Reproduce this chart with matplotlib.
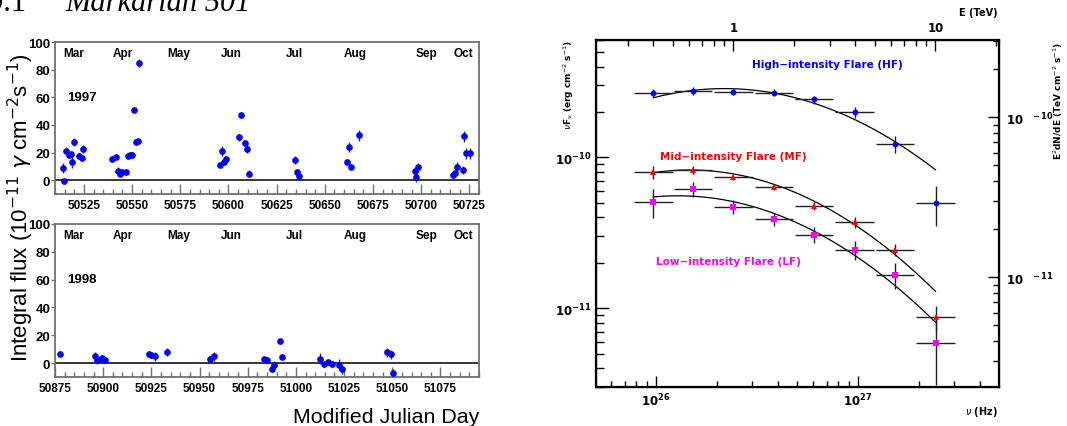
import numpy as np
import matplotlib
matplotlib.use("Agg")
import matplotlib.pyplot as plt
from matplotlib.ticker import FixedLocator, MultipleLocator, NullFormatter, LogLocator

# --- light curves, integral flux in 1e-11 ph cm^-2 s^-1 ---
mjd_1997 = [50514.0, 50514.8, 50515.7, 50517.1, 50518.1, 50518.8, 50519.9, 50522.6, 50523.8, 50524.7,
            50539.6, 50541.8, 50542.9, 50543.9, 50544.9, 50546.8, 50548.0, 50548.9, 50550.0, 50550.8,
            50551.9, 50552.9, 50553.7,
            50595.8, 50596.7, 50597.7, 50598.7, 50605.6, 50606.7, 50608.8, 50609.6, 50610.8,
            50634.7, 50635.6, 50636.6,
            50661.5, 50662.7, 50663.6, 50667.8,
            50696.7, 50697.5, 50698.5,
            50716.4, 50717.4, 50718.5, 50721.6, 50722.4, 50723.4, 50725.5]
flux_1997 = [9.0, -0.7, 21.0, 18.3, 18.6, 12.8, 27.7, 17.6, 15.9, 22.4,
             15.2, 17.1, 6.8, 4.8, 6.0, 6.0, 17.8, 18.1, 18.3, 51.1,
             27.5, 28.0, 84.8,
             10.9, 21.0, 13.5, 15.2, 31.1, 47.3, 27.2, 22.7, 4.8,
             14.7, 5.8, 2.9,
             13.5, 23.8, 9.9, 32.5,
             6.5, 2.0, 9.2,
             3.6, 5.1, 9.9, 7.5, 31.8, 19.5, 19.5]
err_1997 = [3.6, 2.0, 3.0, 2.0, 2.0, 4.0, 3.0, 2.0, 2.0, 3.0,
            2.0, 2.0, 3.0, 2.0, 2.0, 2.0, 2.0, 2.0, 2.0, 2.0,
            2.0, 2.0, 3.0,
            2.0, 3.5, 2.0, 2.0, 2.5, 2.0, 2.0, 3.0, 2.5,
            3.0, 2.0, 2.0,
            2.0, 3.5, 2.0, 4.0,
            3.0, 3.0, 3.0,
            2.0, 2.0, 3.0, 3.0, 4.0, 4.0, 4.0]

mjd_1998 = [50877.8, 50895.9, 50896.8, 50898.7, 50899.5, 50900.8, 50923.8, 50924.8, 50926.9, 50933.0,
            50955.6, 50957.7, 50983.6, 50984.8, 50987.8, 50988.8, 50991.8, 50992.6,
            51012.7, 51014.6, 51016.7, 51018.6, 51022.5, 51023.8, 51047.4, 51049.4, 51050.6]
flux_1998 = [6.5, 5.1, 2.4, 3.1, 3.6, 2.4, 6.7, 6.0, 4.8, 8.2,
             2.9, 4.8, 2.7, 2.3, -4.6, -1.7, 15.6, 4.6,
             3.1, -1.0, 0.9, -1.0, -1.2, -4.6, 7.7, 6.2, -7.0]
err_1998 = [2.0, 3.0, 3.0, 2.0, 2.0, 2.0, 2.0, 2.0, 3.0, 3.0,
            2.0, 3.0, 2.0, 2.0, 2.0, 3.0, 2.0, 2.0,
            4.0, 2.0, 2.0, 2.0, 4.0, 3.0, 3.5, 3.0, 3.0]

months = ["Mar", "Apr", "May", "Jun", "Jul", "Aug", "Sep", "Oct"]
month_pos = [0.045, 0.160, 0.291, 0.416, 0.565, 0.707, 0.876, 0.964]

# --- spectra: nuF_nu in erg cm^-2 s^-1 ---
nu = [9.7e25, 1.53e26, 2.42e26, 3.83e26, 6.07e26, 9.63e26, 1.53e27, 2.42e27]
nu_lo = [7.79e25, 1.23e26, 1.94e26, 3.08e26, 4.88e26, 7.73e26, 1.23e27, 1.94e27]
nu_hi = [1.21e26, 1.90e26, 3.01e26, 4.77e26, 7.56e26, 1.20e27, 1.90e27, 3.01e27]

hf_flux = [2.66e-10, 2.76e-10, 2.72e-10, 2.69e-10, 2.42e-10, 1.99e-10, 1.23e-10, 5.0e-11]
hf_err = [1.6e-11, 1.5e-11, 1.2e-11, 1.4e-11, 1.5e-11, 1.6e-11, 1.6e-11, 1.5e-11]
mf_flux = [8.0e-11, 8.2e-11, 7.36e-11, 6.39e-11, 4.78e-11, 3.70e-11, 2.44e-11, 8.7e-12]
mf_err = [8e-12, 5e-12, 3e-12, 3e-12, 3e-12, 3e-12, 2.2e-12, 1.6e-12]
lf_flux = [5.08e-11, 6.16e-11, 4.71e-11, 3.88e-11, 3.07e-11, 2.44e-11, 1.66e-11, 5.9e-12]
lf_err = [1.1e-11, 7e-12, 5e-12, 4e-12, 3.7e-12, 3.5e-12, 3.2e-12, 2.8e-12]

# log-parabola fits: log10 peak flux, log10 peak energy (TeV), curvature
hf_fit = (-9.544, -0.045, 0.493)
mf_fit = (-10.084, -0.218, 0.542)
lf_fit = (-10.255, -0.275, 0.5155)

NU_PER_TEV = 2.418e26

SANS = "Liberation Sans"

fig = plt.figure(figsize=(10.67, 4.27), dpi=100)
W, H = 1067.0, 427.0


def box(l, t, r, b):
    return [l / W, 1 - b / H, (r - l) / W, (b - t) / H]


def light_curve(ax, mjd, flux, err, x0, year):
    ax.errorbar(mjd, flux, yerr=err, fmt="o", color="#0000ff", ms=4.8, mew=0,
                ecolor="#303030", elinewidth=1.0, capsize=0, zorder=3)
    ax.axhline(0, color="black", lw=1.1, zorder=2)
    ax.set_xlim(x0, x0 + 220)
    ax.set_ylim(-10, 100)
    ax.xaxis.set_major_locator(MultipleLocator(25))
    ax.xaxis.set_minor_locator(MultipleLocator(5))
    ax.yaxis.set_major_locator(MultipleLocator(20))
    ax.tick_params(axis="x", which="major", direction="in", length=7, width=1.0,
                   color="#707070", pad=3.5, labelsize=8.5)
    ax.tick_params(axis="x", which="minor", direction="in", length=3.5, width=1.0, color="#707070")
    ax.tick_params(axis="y", direction="out", length=3, width=1.0, color="#707070",
                   pad=0.5, labelsize=9.5)
    for lab in ax.get_xticklabels() + ax.get_yticklabels():
        lab.set_family(SANS)
        lab.set_fontweight("bold")
    for s in ax.spines.values():
        s.set_color("#707070")
        s.set_linewidth(1.3)
    for name, pos in zip(months, month_pos):
        ax.text(pos, 0.925, name, transform=ax.transAxes, ha="center", va="center",
                fontsize=8.5, fontweight="bold", family=SANS)
    ax.text(0.028, 0.64, year, transform=ax.transAxes, ha="left", va="center",
            fontsize=9.5, fontweight="bold", family=SANS)


ax1 = fig.add_axes(box(55, 43, 479, 195))
light_curve(ax1, mjd_1997, flux_1997, err_1997, 50510, "1997")
ax2 = fig.add_axes(box(55, 225, 479, 378))
light_curve(ax2, mjd_1998, flux_1998, err_1998, 50875, "1998")

fig.text(28 / W, 1 - 362 / H, r"Integral flux (10$^{-11}$ $\gamma$ cm$^{-2}$s$^{-1}$)",
         rotation=90, rotation_mode="anchor", ha="left", va="baseline",
         fontsize=16, family=SANS)
fig.text(479 / W, 4 / H, "Modified Julian Day", ha="right", va="baseline",
         fontsize=15.4, family=SANS)
fig.text(-12 / W, 1 - 11 / H, "9.1", ha="left", va="baseline", fontsize=22,
         family="Liberation Serif")
fig.text(65 / W, 1 - 11 / H, "Markarian 501", ha="left", va="baseline", fontsize=22,
         family="Liberation Serif", style="italic")

# --- spectral energy distribution ---
ax = fig.add_axes(box(596, 41, 999, 388))
ax.set_xscale("log")
ax.set_yscale("log")
ax.set_xlim(5.05e25, 4.99e27)
ax.set_ylim(3.0e-12, 6.0e-10)

nu_a = np.array(nu)
xerr = [nu_a - np.array(nu_lo), np.array(nu_hi) - nu_a]
series = [(hf_flux, hf_err, "o", "#0000ff", 4.2),
          (mf_flux, mf_err, "^", "#ff0000", 4.0),
          (lf_flux, lf_err, "s", "#ff00ff", 4.6)]
for flux, err, mk, col, ms in series:
    ax.errorbar(nu, flux, xerr=xerr, yerr=err, fmt=mk, color=col, ms=ms, mew=0,
                ecolor="#202020", elinewidth=1.0, capsize=0, zorder=3)

u = np.linspace(np.log10(nu[0] / NU_PER_TEV), np.log10(nu[-1] / NU_PER_TEV), 200)
for p, u0, k in (hf_fit, mf_fit, lf_fit):
    ax.plot(NU_PER_TEV * 10 ** u, 10 ** (p - k * (u - u0) ** 2), color="black", lw=0.9, zorder=2)

for s in ax.spines.values():
    s.set_linewidth(1.6)
ax.tick_params(which="major", direction="in", length=8, width=1.0, labelsize=8.5)
ax.tick_params(which="minor", direction="in", length=4.5, width=1.0)
ax.tick_params(axis="y", which="major", length=9)
ax.tick_params(axis="y", which="minor", length=5.5)
ax.xaxis.set_major_locator(FixedLocator([1e26, 1e27]))
ax.yaxis.set_major_locator(FixedLocator([1e-11, 1e-10]))
ax.xaxis.set_minor_locator(LogLocator(10, subs=np.arange(2, 10)))
ax.yaxis.set_minor_locator(LogLocator(10, subs=np.arange(2, 10)))
ax.xaxis.set_minor_formatter(NullFormatter())
ax.yaxis.set_minor_formatter(NullFormatter())
ax.set_xticklabels([r"$\mathbf{10^{26}}$", r"$\mathbf{10^{27}}$"])
ax.set_yticklabels([r"$\mathbf{10^{-11}}$", r"$\mathbf{10^{-10}}$"])

axt = ax.twiny()
axt.set_xscale("log")
axt.set_xlim(5.05e25 / NU_PER_TEV, 4.99e27 / NU_PER_TEV)
axt.xaxis.set_major_locator(FixedLocator([1, 10]))
axt.xaxis.set_minor_locator(LogLocator(10, subs=np.arange(2, 10)))
axt.xaxis.set_minor_formatter(NullFormatter())
axt.set_xticklabels(["1", "10"], fontweight="bold", fontsize=8.5)
axt.tick_params(which="major", direction="in", length=8, width=1.0, pad=4)
axt.tick_params(which="minor", direction="in", length=4.5, width=1.0)

axr = ax.twinx()
axr.set_yscale("log")
axr.set_ylim(10 ** -11.686, 10 ** -9.517)
axr.yaxis.set_major_locator(FixedLocator([1e-11, 1e-10]))
axr.yaxis.set_minor_locator(LogLocator(10, subs=np.arange(2, 10)))
axr.yaxis.set_minor_formatter(NullFormatter())
axr.set_yticklabels([r"$\mathbf{10^{\ \ \ -11}}$", r"$\mathbf{10^{\ \ \ -10}}$"], fontsize=8.5)
axr.tick_params(which="major", direction="in", length=8, width=1.0, pad=5)
axr.tick_params(which="minor", direction="in", length=4.5, width=1.0)

ax.text(0.575, 0.93, "High\u2212intensity Flare (HF)", transform=ax.transAxes, ha="center",
        va="center", color="#0000ff", fontsize=7.5, fontweight="bold")
ax.text(0.34, 0.665, "Mid\u2212intensity Flare (MF)", transform=ax.transAxes, ha="center",
        va="center", color="#ff0000", fontsize=7.5, fontweight="bold")
ax.text(0.328, 0.363, "Low\u2212intensity Flare (LF)", transform=ax.transAxes, ha="center",
        va="center", color="#ff00ff", fontsize=7.5, fontweight="bold")

fig.text(569 / W, 1 - 40 / H, r"$\nu$F$_\nu$ (erg cm$^{-2}$ s$^{-1}$)", rotation=90,
         ha="center", va="top", fontsize=6.5, fontweight="bold")
fig.text(1058 / W, 1 - 42 / H, r"E$^2$dN/dE (TeV cm$^{-2}$ s$^{-1}$)", rotation=90,
         ha="center", va="top", fontsize=6.5, fontweight="bold")
fig.text(998 / W, 1 - 13 / H, "E (TeV)", ha="right", va="center", fontsize=7, fontweight="bold")
fig.text(998 / W, 1 - 412 / H, r"$\nu$ (Hz)", ha="right", va="center", fontsize=7,
         fontweight="bold")

fig.savefig("out.png", dpi=100)
